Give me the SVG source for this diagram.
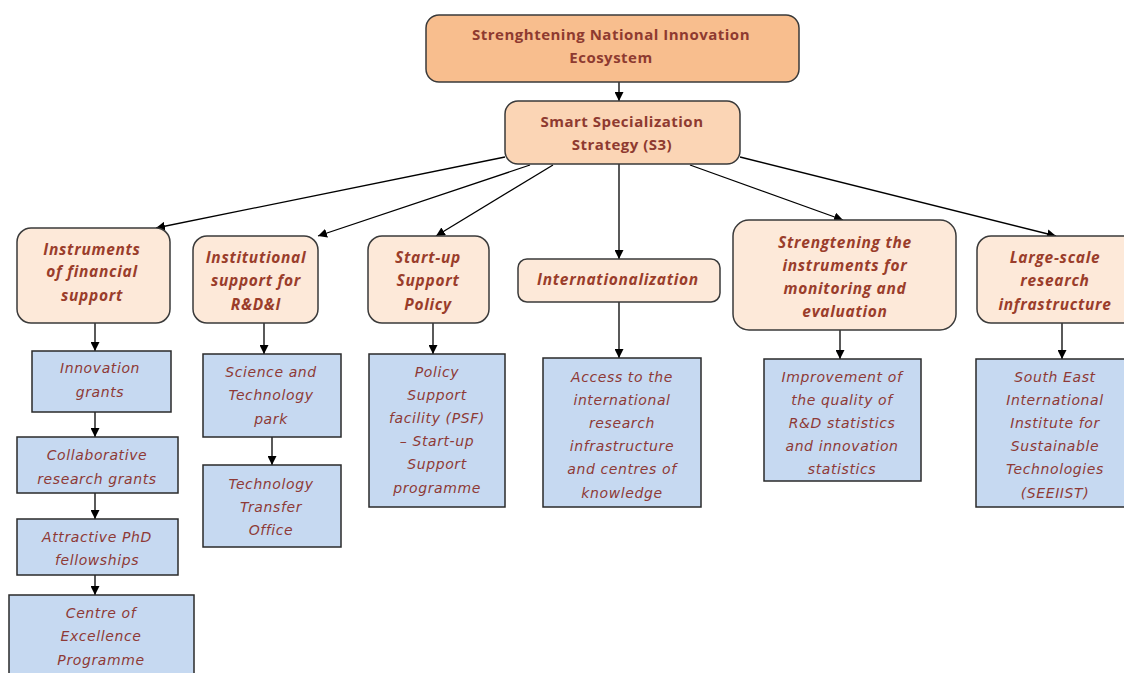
<svg xmlns="http://www.w3.org/2000/svg" width="1124" height="673" viewBox="0 0 1124 673">
<defs>
<marker id="ah" viewBox="0 0 10 10" refX="10" refY="5" markerWidth="9" markerHeight="9" markerUnits="userSpaceOnUse" orient="auto">
<path d="M0,0 L10,5 L0,10 z" fill="#000"/>
</marker>
<style>
.top{fill:#F8BE8E;stroke:#3a3a3a;stroke-width:1.5}
.s3{fill:#FBD5B5;stroke:#3a3a3a;stroke-width:1.5}
.l2{fill:#FDE9D9;stroke:#3a3a3a;stroke-width:1.5}
.l3{fill:#C6D9F1;stroke:#2a2a2a;stroke-width:1.5}
.tt{font-family:"Open Sans","Liberation Sans",sans-serif;font-weight:bold;font-size:15px;letter-spacing:0.5px;fill:#8E3A30;text-anchor:middle}
.t2{font-family:"Open Sans","Liberation Sans",sans-serif;font-weight:bold;font-style:italic;font-size:15.5px;letter-spacing:0.7px;fill:#9A3D2B;text-anchor:middle}
.t3{font-family:"DejaVu Sans","Liberation Sans",sans-serif;font-style:italic;font-size:14px;letter-spacing:0.6px;fill:#8E3A36;text-anchor:middle}
.c{stroke:#000;stroke-width:1.3;fill:none;marker-end:url(#ah)}
</style>
</defs>
<rect width="1124" height="673" fill="#fff"/>
<g id="connectors">
<line class="c" x1="619" y1="82" x2="619" y2="101"/>
<line class="c" x1="505" y1="157" x2="156" y2="228"/>
<line class="c" x1="530" y1="165" x2="318" y2="236"/>
<line class="c" x1="553" y1="165" x2="436" y2="236"/>
<line class="c" x1="619" y1="164" x2="619" y2="259"/>
<line class="c" x1="690" y1="165" x2="843" y2="220"/>
<line class="c" x1="740" y1="157" x2="1056" y2="236"/>
<line class="c" x1="95" y1="323" x2="95" y2="351"/>
<line class="c" x1="95" y1="412" x2="95" y2="437"/>
<line class="c" x1="95" y1="493" x2="95" y2="519"/>
<line class="c" x1="95" y1="575" x2="95" y2="595"/>
<line class="c" x1="264" y1="323" x2="264" y2="354"/>
<line class="c" x1="272" y1="437" x2="272" y2="465"/>
<line class="c" x1="433" y1="323" x2="433" y2="354"/>
<line class="c" x1="619" y1="302" x2="619" y2="358"/>
<line class="c" x1="840" y1="330" x2="840" y2="359"/>
<line class="c" x1="1062" y1="323" x2="1062" y2="359"/>
</g>
<g id="n_top">
<rect class="top" x="426" y="15" width="373" height="67" rx="13"/>
<text class="tt" x="611" y="40">Strenghtening National Innovation</text>
<text class="tt" x="611" y="63">Ecosystem</text>
</g>
<g id="n_s3">
<rect class="s3" x="505" y="101" width="235" height="63" rx="13"/>
<text class="tt" x="622" y="127">Smart Specialization</text>
<text class="tt" x="622" y="150">Strategy (S3)</text>
</g>
<g id="n_fin">
<rect class="l2" x="17" y="228" width="153" height="95" rx="14"/>
<text class="t2" x="92" y="255">Instruments</text>
<text class="t2" x="92" y="277">of financial</text>
<text class="t2" x="92" y="301">support</text>
</g>
<g id="n_inst">
<rect class="l2" x="193" y="236" width="125" height="87" rx="14"/>
<text class="t2" x="256" y="263">Institutional</text>
<text class="t2" x="256" y="286">support for</text>
<text class="t2" x="256" y="310">R&amp;D&amp;I</text>
</g>
<g id="n_start">
<rect class="l2" x="368" y="236" width="121" height="87" rx="14"/>
<text class="t2" x="428" y="263">Start-up</text>
<text class="t2" x="428" y="286">Support</text>
<text class="t2" x="428" y="310">Policy</text>
</g>
<g id="n_int">
<rect class="l2" x="518" y="259" width="202" height="43" rx="9"/>
<text class="t2" x="618" y="285">Internationalization</text>
</g>
<g id="n_mon">
<rect class="l2" x="733" y="220" width="223" height="110" rx="16"/>
<text class="t2" x="845" y="248">Strengtening the</text>
<text class="t2" x="845" y="271">instruments for</text>
<text class="t2" x="845" y="294">monitoring and</text>
<text class="t2" x="845" y="317">evaluation</text>
</g>
<g id="n_large">
<rect class="l2" x="977" y="236" width="160" height="87" rx="14"/>
<text class="t2" x="1055" y="263">Large-scale</text>
<text class="t2" x="1055" y="286">research</text>
<text class="t2" x="1055" y="310">infrastructure</text>
</g>
<g id="n_innov">
<rect class="l3" x="32" y="351" width="139" height="61"/>
<text class="t3" x="100" y="373">Innovation</text>
<text class="t3" x="100" y="397">grants</text>
</g>
<g id="n_collab">
<rect class="l3" x="17" y="437" width="161" height="56"/>
<text class="t3" x="97" y="460">Collaborative</text>
<text class="t3" x="97" y="484">research grants</text>
</g>
<g id="n_phd">
<rect class="l3" x="17" y="519" width="161" height="56"/>
<text class="t3" x="97" y="542">Attractive PhD</text>
<text class="t3" x="97" y="565">fellowships</text>
</g>
<g id="n_coe">
<rect class="l3" x="9" y="595" width="185" height="90"/>
<text class="t3" x="101" y="618">Centre of</text>
<text class="t3" x="101" y="641">Excellence</text>
<text class="t3" x="101" y="665">Programme</text>
</g>
<g id="n_stp">
<rect class="l3" x="203" y="354" width="138" height="83"/>
<text class="t3" x="271" y="377">Science and</text>
<text class="t3" x="271" y="400">Technology</text>
<text class="t3" x="271" y="424">park</text>
</g>
<g id="n_tto">
<rect class="l3" x="203" y="465" width="138" height="82"/>
<text class="t3" x="271" y="489">Technology</text>
<text class="t3" x="271" y="512">Transfer</text>
<text class="t3" x="271" y="535">Office</text>
</g>
<g id="n_psf">
<rect class="l3" x="369" y="354" width="136" height="153"/>
<text class="t3" x="437" y="377">Policy</text>
<text class="t3" x="437" y="400">Support</text>
<text class="t3" x="437" y="423">facility (PSF)</text>
<text class="t3" x="437" y="446">– Start-up</text>
<text class="t3" x="437" y="469">Support</text>
<text class="t3" x="437" y="493">programme</text>
</g>
<g id="n_access">
<rect class="l3" x="543" y="358" width="158" height="149"/>
<text class="t3" x="622" y="382">Access to the</text>
<text class="t3" x="622" y="405">international</text>
<text class="t3" x="622" y="428">research</text>
<text class="t3" x="622" y="451">infrastructure</text>
<text class="t3" x="622" y="474">and centres of</text>
<text class="t3" x="622" y="498">knowledge</text>
</g>
<g id="n_improve">
<rect class="l3" x="764" y="359" width="157" height="122"/>
<text class="t3" x="842" y="382">Improvement  of</text>
<text class="t3" x="842" y="405">the quality of</text>
<text class="t3" x="842" y="428">R&amp;D statistics</text>
<text class="t3" x="842" y="451">and innovation</text>
<text class="t3" x="842" y="474">statistics</text>
</g>
<g id="n_seeiist">
<rect class="l3" x="976" y="359" width="160" height="148"/>
<text class="t3" x="1055" y="382">South East</text>
<text class="t3" x="1055" y="405">International</text>
<text class="t3" x="1055" y="428">Institute for</text>
<text class="t3" x="1055" y="451">Sustainable</text>
<text class="t3" x="1055" y="474">Technologies</text>
<text class="t3" x="1055" y="498">(SEEIIST)</text>
</g>
</svg>
